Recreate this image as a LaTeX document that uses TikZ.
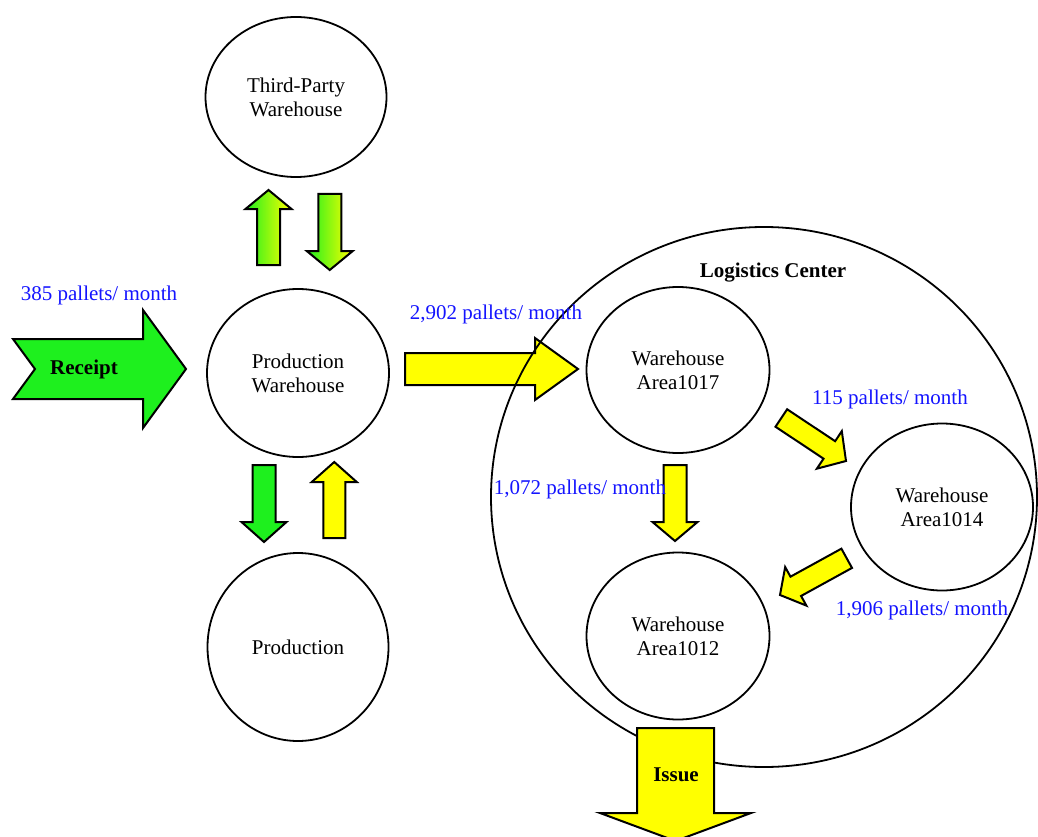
\documentclass[tikz,border=0pt]{standalone}
\usepackage{fontspec}
\setmainfont{Liberation Serif}
\usetikzlibrary{shapes.geometric,calc}

\definecolor{flowyellow}{RGB}{255,255,0}
\definecolor{flowgreen}{RGB}{30,240,30}
\definecolor{labelblue}{RGB}{20,20,255}

% Block arrow from a tail point to a tip point:
% [style]{tail}{tip}{shaft half width}{head half width}{head length}
\newcommand\blockarrow[6][]{%
  \coordinate (ba-h) at ($(#3)!#6!(#2)$);
  \path[arrowbody,#1]
    ($(#2)!#4!90:(#3)$) -- ($(ba-h)!#4!90:(#3)$) -- ($(ba-h)!#5!90:(#3)$)
    -- (#3)
    -- ($(ba-h)!#5!-90:(#3)$) -- ($(ba-h)!#4!-90:(#3)$) -- ($(#2)!#4!-90:(#3)$)
    -- cycle;
}

\begin{document}
\begin{tikzpicture}[x=1pt,y=-1pt,
  every node/.style={font=\fontsize{21}{24}\selectfont},
  area/.style={draw, ellipse, line width=1.8pt, align=center, inner sep=0pt},
  flow/.style={text=labelblue, anchor=base, inner sep=0pt},
  tag/.style={font=\fontsize{21}{24}\selectfont\bfseries, anchor=base, inner sep=0pt},
  arrowbody/.style={draw, line width=2pt, line join=miter},
  yellowarrow/.style={fill=flowyellow},
  greenarrow/.style={fill=flowgreen},
  fadearrow/.style={left color=flowgreen, right color=flowyellow}
]
\useasboundingbox (0,0) rectangle (1038,837);

% ---- end points of the block arrows ----
\coordinate (pw-out) at (405,369);     \coordinate (a17-in) at (578,369);
\coordinate (tp-up-t) at (268.5,265);  \coordinate (tp-up-h) at (268.5,190);
\coordinate (tp-dn-t) at (329.75,194); \coordinate (tp-dn-h) at (329.75,270);
\coordinate (pr-dn-t) at (264,465);    \coordinate (pr-dn-h) at (264,542);
\coordinate (pr-up-t) at (334.25,538); \coordinate (pr-up-h) at (334.25,462);
\coordinate (a17-dn-t) at (675,465);   \coordinate (a17-dn-h) at (675,541);
\coordinate (a17-rt-t) at (781.3,418); \coordinate (a14-in) at (846,461);
\coordinate (a14-out) at (846.7,558.3);\coordinate (a12-in) at (780,595);
\coordinate (issue-t) at (675.5,728);  \coordinate (issue-h) at (675.5,841);

% Production Warehouse -> Area1017 (lies under the Logistics Center outline)
\blockarrow[yellowarrow]{pw-out}{a17-in}{16pt}{31pt}{43pt}

% ---- areas ----
\node[area, minimum width=546pt, minimum height=540pt] (lc) at (764,497) {};
\node[area, minimum width=181pt, minimum height=160pt] (tpw) at (296,97) {Third-Party\\Warehouse};
\node[area, minimum width=182pt, minimum height=168pt] (pw) at (298,373) {Production\\Warehouse};
\node[area, minimum width=181pt, minimum height=188pt] (prod) at (298,647) {Production};
\node[area, minimum width=183pt, minimum height=166pt] (a17) at (678,370) {Warehouse\\Area1017};
\node[area, minimum width=182pt, minimum height=167pt] (a14) at (942,507) {Warehouse\\Area1014};
\node[area, minimum width=183pt, minimum height=167pt] (a12) at (678,636) {Warehouse\\Area1012};

% ---- Receipt arrow with notched tail ----
\path[arrowbody, greenarrow] (13,339) -- (143,339) -- (143,310) -- (186,369)
  -- (143,428) -- (143,399) -- (13,399) -- (35,369) -- cycle;

% ---- flows between areas ----
\blockarrow[fadearrow]{tp-up-t}{tp-up-h}{11.5pt}{23pt}{19pt}
\blockarrow[fadearrow]{tp-dn-t}{tp-dn-h}{11.5pt}{23pt}{19pt}
\blockarrow[greenarrow]{pr-dn-t}{pr-dn-h}{11.5pt}{22.5pt}{20pt}
\blockarrow[yellowarrow]{pr-up-t}{pr-up-h}{11pt}{22.5pt}{20pt}
\blockarrow[yellowarrow]{a17-dn-t}{a17-dn-h}{11.5pt}{22.5pt}{19pt}
\blockarrow[yellowarrow]{a17-rt-t}{a14-in}{10.5pt}{22.5pt}{20pt}
\blockarrow[yellowarrow]{a14-out}{a12-in}{11pt}{22pt}{18pt}
\blockarrow[yellowarrow]{issue-t}{issue-h}{38.5pt}{75.5pt}{28pt}

% ---- labels ----
\node[tag] (receipt) at (84,374) {Receipt};
\node[tag] (issue) at (676,781) {Issue};
\node[tag] (lc-title) at (773,277) {Logistics Center};

\node[flow] (f385) at (99,300) {385 pallets/ month};
\node[flow] (f2902) at (496,319) {2,902 pallets/ month};
\node[flow] (f1072) at (580,494) {1,072 pallets/ month};
\node[flow] (f115) at (890,404) {115 pallets/ month};
\node[flow] (f1906) at (922,615) {1,906 pallets/ month};
\end{tikzpicture}
\end{document}
